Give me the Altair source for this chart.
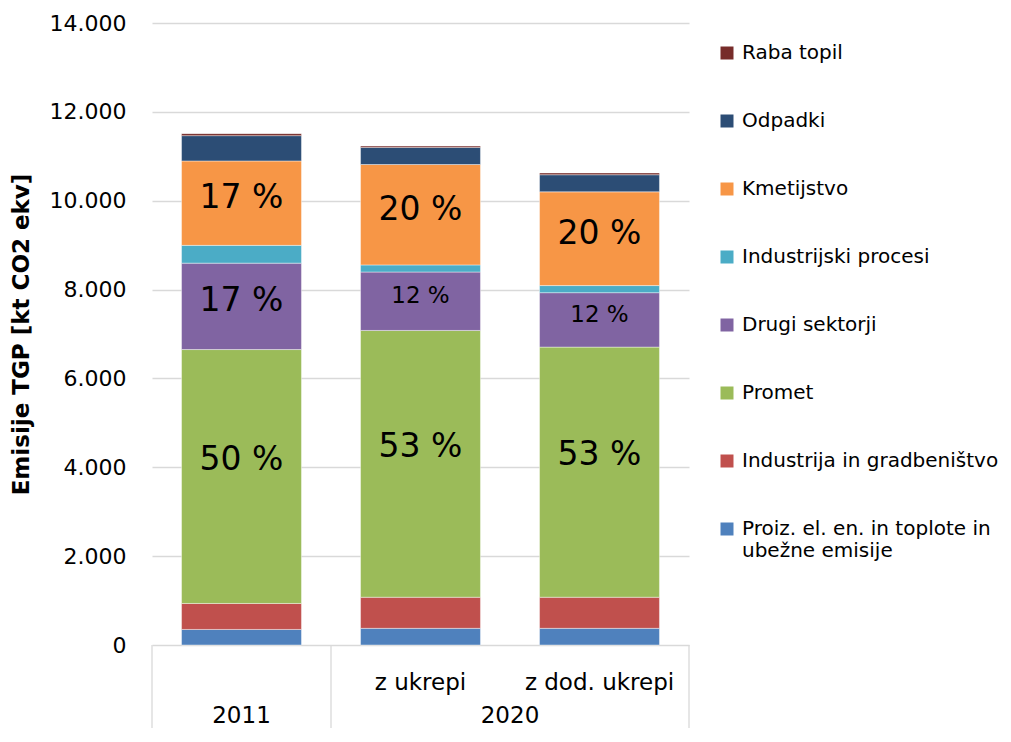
import altair as alt
import pandas as pd

FONT = "DejaVu Sans"

bars = ["2011", "z ukrepi", "z dod. ukrepi"]
group_labels = ["2011", "2020"]
categories = [
    "Proiz. el. en. in toplote in ubežne emisije",
    "Industrija in gradbeništvo",
    "Promet",
    "Drugi sektorji",
    "Industrijski procesi",
    "Kmetijstvo",
    "Odpadki",
    "Raba topil",
]
colors = ["#4F81BD", "#C0504D", "#9BBB59", "#8064A2", "#4BACC6", "#F79646", "#2C4D75", "#772C2A"]
v_2011 = [350, 585, 5715, 1945, 400, 1900, 570, 45]
v_ukrepi = [375, 700, 6005, 1315, 160, 2260, 385, 30]
v_dod = [375, 700, 5630, 1225, 160, 2110, 385, 40]
labelled = ["Promet", "Drugi sektorji", "Kmetijstvo"]
y_ticks = [0, 2000, 4000, 6000, 8000, 10000, 12000, 14000]

rows = []
for b, vals in zip(bars, [v_2011, v_ukrepi, v_dod]):
    total = sum(vals)
    cum = 0
    for i, (c, v) in enumerate(zip(categories, vals)):
        rows.append({
            "bar": b, "cat": c, "value": v, "idx": i,
            "mid": cum + v / 2,
            "pct": f"{round(v / total * 100)} %",
        })
        cum += v
df = pd.DataFrame(rows)
lab_df = df[df["cat"].isin(labelled)].copy()

W, H = 537, 622
PI, PO = 0.33, 0.165
step = W / (len(bars) - PI + 2 * PO)
halfgap = step * PI / 2

x_axis = alt.Axis(title=None, labelExpr="datum.label == '2011' ? '' : datum.label",
                  labelAngle=0, domain=False, ticks=False, grid=False, labelPadding=26,
                  labelFontSize=23, labelColor="#000000", labelFont=FONT)
x_scale = alt.Scale(domain=bars, paddingInner=PI, paddingOuter=PO)
y_axis = alt.Axis(title="Emisije TGP [kt CO2 ekv]", values=y_ticks,
                  labelExpr="replace(format(datum.value, ','), ',', '.')",
                  labelFontSize=22, labelFont=FONT, labelColor="#000000", labelPadding=26,
                  ticks=False, tickSize=0, domain=False, grid=True, gridColor="#D9D9D9",
                  gridWidth=1.3, titleFont=FONT, titleFontSize=23, titleFontWeight="bold",
                  titleColor="#000000", titleX=-131, titleY=H / 2, titleAngle=270,
                  titleAlign="center", titleBaseline="middle")
y_scale = alt.Scale(domain=[0, 14000], nice=False)

base_x = alt.X("bar:N", scale=x_scale, axis=x_axis)

bar_layer = alt.Chart(df).mark_bar(stroke="white", strokeWidth=0.6, strokeOpacity=0.7).encode(
    x=base_x,
    y=alt.Y("value:Q", stack="zero", scale=y_scale, axis=y_axis),
    color=alt.Color("cat:N",
                    scale=alt.Scale(domain=categories[::-1], range=colors[::-1]),
                    legend=alt.Legend(title=None, orient="none", legendX=565, legendY=20,
                                      symbolType="square", symbolSize=169, symbolStrokeWidth=0,
                                      labelFontSize=20, labelFont=FONT, labelColor="#000000",
                                      labelLimit=400, rowPadding=48, labelOffset=5, padding=0,
                                      labelExpr="datum.label == 'Proiz. el. en. in toplote in ubežne emisije' ? ['Proiz. el. en. in toplote in', 'ubežne emisije'] : datum.label")),
    order=alt.Order("idx:Q", sort="ascending"),
)

big_green = alt.Chart(lab_df).transform_filter("datum.cat == 'Promet'").mark_text(
    font=FONT, fontSize=33, dy=-17, color="#000000").encode(
    x=base_x, y=alt.Y("mid:Q", scale=y_scale, axis=y_axis), text="pct:N")
big_other = alt.Chart(lab_df).transform_filter(
    "datum.cat == 'Kmetijstvo' || (datum.cat == 'Drugi sektorji' && datum.bar == '2011')").mark_text(
    font=FONT, fontSize=33, dy=-5, color="#000000").encode(
    x=base_x, y=alt.Y("mid:Q", scale=y_scale, axis=y_axis), text="pct:N")
small = alt.Chart(lab_df).transform_filter(
    "datum.cat == 'Drugi sektorji' && datum.bar != '2011'").mark_text(
    font=FONT, fontSize=23, dy=-5, color="#000000").encode(
    x=base_x, y=alt.Y("mid:Q", scale=y_scale, axis=y_axis), text="pct:N")

sep_start = alt.Chart(pd.DataFrame({"bar": bars[:2]})).mark_rule(
    color="#D9D9D9", strokeWidth=1.3, xOffset=-halfgap).encode(
    x=alt.X("bar:N", scale=x_scale, axis=x_axis, bandPosition=0),
    y=alt.value(H), y2=alt.value(705))
sep_end = alt.Chart(pd.DataFrame({"bar": bars[2:]})).mark_rule(
    color="#D9D9D9", strokeWidth=1.3, xOffset=halfgap).encode(
    x=alt.X("bar:N", scale=x_scale, axis=x_axis, bandPosition=1),
    y=alt.value(H), y2=alt.value(705))

g1 = alt.Chart(pd.DataFrame({"bar": [bars[0]], "g": [group_labels[0]]})).mark_text(
    font=FONT, fontSize=23, color="#000000", baseline="middle").encode(
    x=alt.X("bar:N", scale=x_scale, axis=x_axis, bandPosition=0.5),
    y=alt.value(693), text="g:N")
g2 = alt.Chart(pd.DataFrame({"bar": [bars[1]], "g": [group_labels[1]]})).mark_text(
    font=FONT, fontSize=23, color="#000000", baseline="middle", xOffset=halfgap).encode(
    x=alt.X("bar:N", scale=x_scale, axis=x_axis, bandPosition=1),
    y=alt.value(693), text="g:N")

chart = alt.layer(bar_layer, big_green, big_other, small, sep_start, sep_end, g1, g2).properties(
    width=W, height=H,
    autosize=alt.AutoSizeParams(type="none"),
    padding={"left": 144, "top": 15, "right": 314, "bottom": 83},
).configure_view(stroke=None)

chart.save("out.html", embed_options={"renderer": "svg", "actions": False})
